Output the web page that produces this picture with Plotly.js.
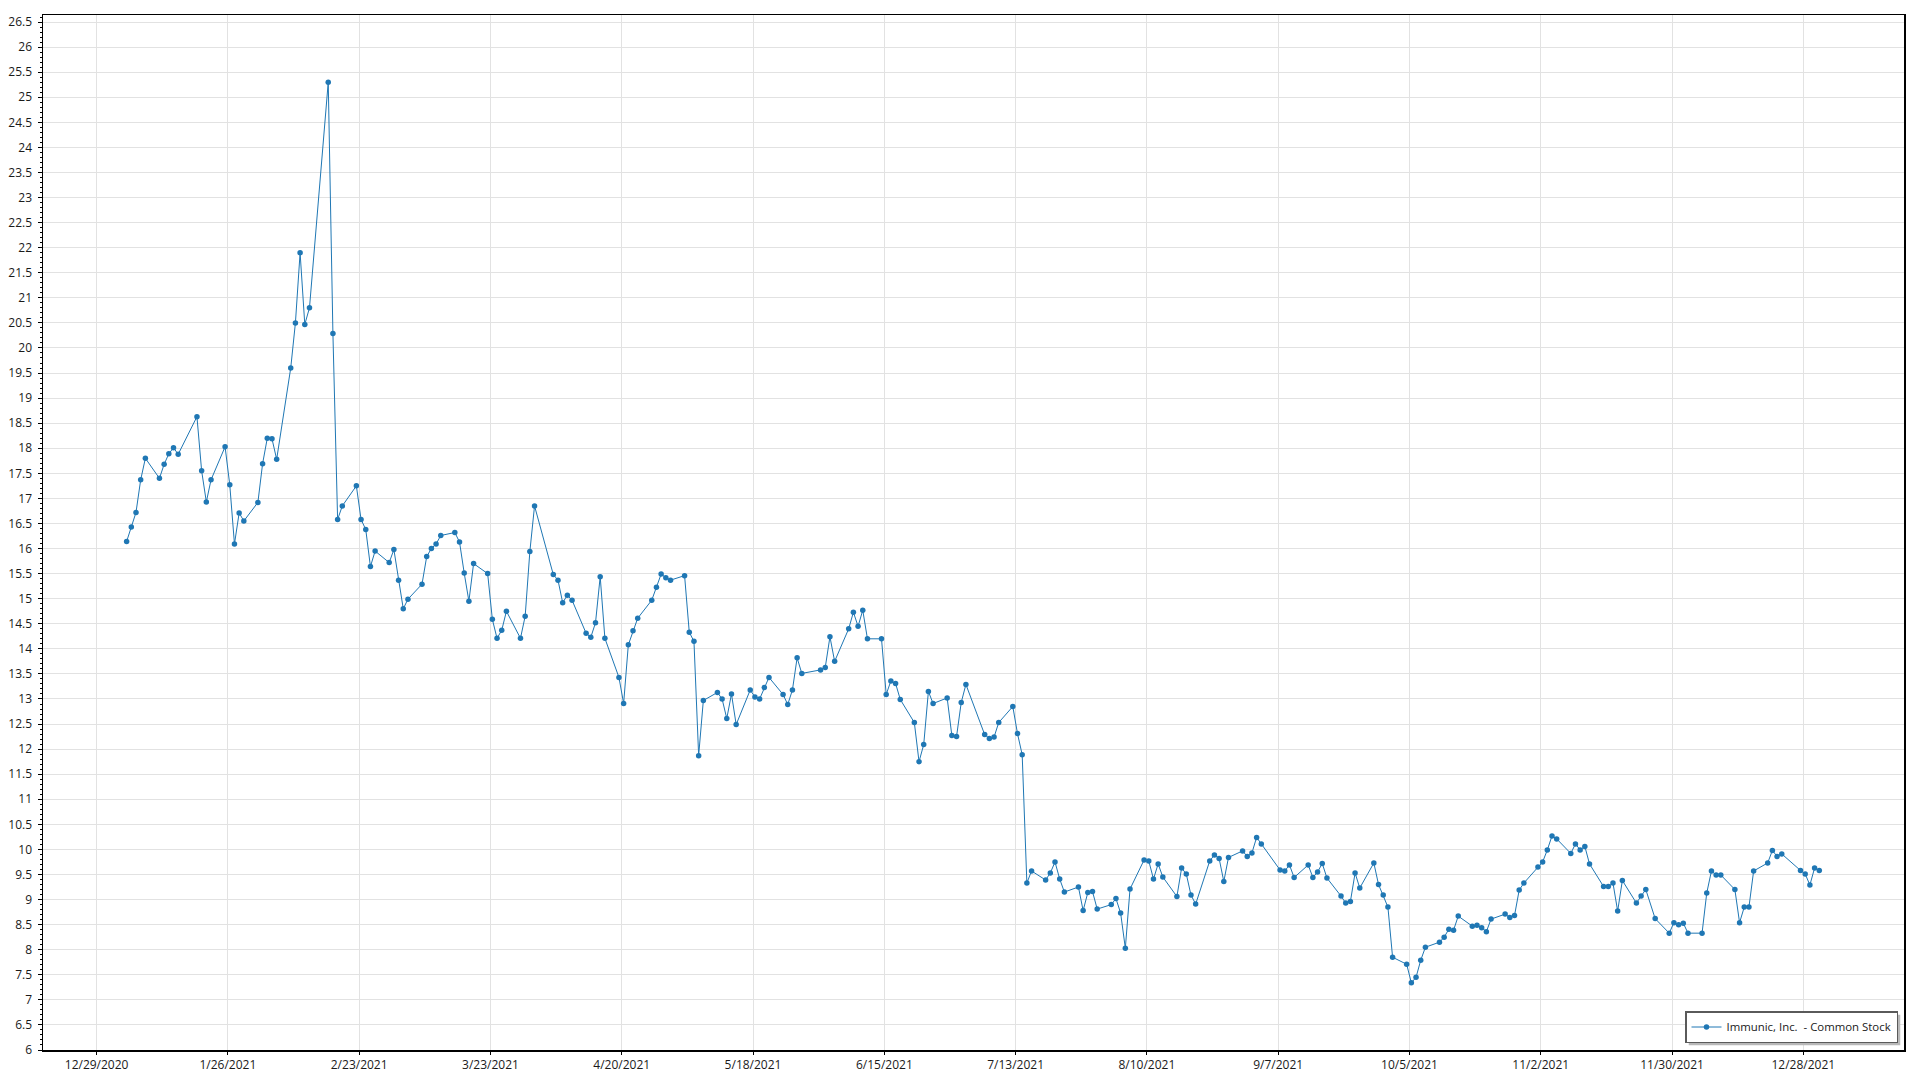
<!DOCTYPE html>
<html>
<head>
<meta charset="utf-8">
<script src="https://cdn.plot.ly/plotly-3.0.1.min.js"></script>
<style>
  html, body { margin: 0; padding: 0; background: #ffffff; }
  #chart { width: 1920px; height: 1080px; }
</style>
</head>
<body>
<div id="chart"></div>
<script>
// ---- Data: trading days (day of month) and closing prices, 2021 ----
const seriesName = 'Immunic, Inc.\u00a0 - Common Stock';
const year = 2021;

const daysJan = [4,5,6,7,8,11,12,13,14,15,19,20,21,22,25,26,27,28,29];
const pricesJan = [16.14,16.43,16.72,17.37,17.80,17.40,17.68,17.89,18.01,17.88,18.63,17.55,16.93,17.37,18.03,17.27,16.09,16.71,16.55];

const daysFeb = [1,2,3,4,5,8,9,10,11,12,16,17,18,19,22,23,24,25,26];
const pricesFeb = [16.92,17.69,18.20,18.19,17.78,19.60,20.50,21.90,20.47,20.80,25.30,20.29,16.58,16.85,17.25,16.58,16.38,15.64,15.95];

const daysMar = [1,2,3,4,5,8,9,10,11,12,15,16,17,18,19,22,23,24,25,26,29,30,31];
const pricesMar = [15.72,15.98,15.37,14.80,14.99,15.29,15.84,16.00,16.09,16.26,16.32,16.13,15.51,14.95,15.70,15.50,14.59,14.21,14.37,14.75,14.21,14.65,15.94];

const daysApr = [1,5,6,7,8,9,12,13,14,15,16,19,20,21,22,23,26,27,28,29,30];
const pricesApr = [16.85,15.48,15.37,14.92,15.07,14.97,14.31,14.23,14.52,15.44,14.21,13.43,12.91,14.08,14.36,14.61,14.97,15.23,15.49,15.42,15.37];

const daysMay = [3,4,5,6,7,10,11,12,13,14,17,18,19,20,21,24,25,26,27,28];
const pricesMay = [15.46,14.33,14.15,11.87,12.97,13.13,13.00,12.61,13.10,12.49,13.18,13.04,13.00,13.23,13.43,13.09,12.89,13.18,13.82,13.51];

const daysJun = [1,2,3,4,7,8,9,10,11,14,15,16,17,18,21,22,23,24,25,28,29,30];
const pricesJun = [13.58,13.63,14.24,13.75,14.40,14.73,14.45,14.77,14.20,14.20,13.09,13.36,13.31,12.99,12.53,11.75,12.09,13.15,12.91,13.02,12.27,12.25];

const daysJul = [1,2,6,7,8,9,12,13,14,15,16,19,20,21,22,23,26,27,28,29,30];
const pricesJul = [12.93,13.29,12.29,12.21,12.24,12.53,12.85,12.31,11.89,9.33,9.57,9.39,9.53,9.75,9.41,9.15,9.25,8.78,9.14,9.16,8.81];

const daysAug = [2,3,4,5,6,9,10,11,12,13,16,17,18,19,20,23,24,25,26,27,30,31];
const pricesAug = [8.90,9.02,8.73,8.03,9.21,9.79,9.77,9.41,9.71,9.45,9.06,9.63,9.51,9.09,8.91,9.77,9.89,9.82,9.36,9.84,9.97,9.86];

const daysSep = [1,2,3,7,8,9,10,13,14,15,16,17,20,21,22,23,24,27,28,29,30];
const pricesSep = [9.93,10.24,10.11,9.59,9.57,9.69,9.44,9.69,9.44,9.55,9.72,9.43,9.07,8.93,8.96,9.53,9.23,9.73,9.30,9.09,8.85];

const daysOct = [1,4,5,6,7,8,11,12,13,14,15,18,19,20,21,22,25,26,27,28,29];
const pricesOct = [7.85,7.71,7.34,7.45,7.79,8.05,8.15,8.25,8.41,8.39,8.67,8.47,8.49,8.44,8.36,8.61,8.71,8.64,8.68,9.19,9.33];

const daysNov = [1,2,3,4,5,8,9,10,11,12,15,16,17,18,19,22,23,24,26,29,30];
const pricesNov = [9.65,9.75,9.99,10.27,10.21,9.92,10.11,9.99,10.06,9.71,9.26,9.26,9.33,8.77,9.38,8.93,9.07,9.20,8.62,8.33,8.54];

const daysDec = [1,2,3,6,7,8,9,10,13,14,15,16,17,20,21,22,23,27,28,29,30,31];
const pricesDec = [8.50,8.53,8.33,8.33,9.13,9.57,9.49,9.49,9.20,8.54,8.85,8.85,9.57,9.73,9.98,9.86,9.91,9.58,9.51,9.29,9.63,9.58];

const tickLabels = ['12/29/2020','1/26/2021','2/23/2021','3/23/2021','4/20/2021','5/18/2021',
  '6/15/2021','7/13/2021','8/10/2021','9/7/2021','10/5/2021','11/2/2021','11/30/2021','12/28/2021'];

// ---- Build series ----
const months = [
  [1, daysJan, pricesJan], [2, daysFeb, pricesFeb], [3, daysMar, pricesMar],
  [4, daysApr, pricesApr], [5, daysMay, pricesMay], [6, daysJun, pricesJun],
  [7, daysJul, pricesJul], [8, daysAug, pricesAug], [9, daysSep, pricesSep],
  [10, daysOct, pricesOct], [11, daysNov, pricesNov], [12, daysDec, pricesDec]
];
const pad = n => String(n).padStart(2, '0');
const xDates = [], yPrices = [];
months.forEach(([m, ds, ps]) => {
  ds.forEach((d, i) => { xDates.push(year + '-' + pad(m) + '-' + pad(d)); yPrices.push(ps[i]); });
});

// tick positions (grid lines sit slightly before midnight of the data points)
const shiftMs = 9.6 * 3600 * 1000;
const toPlotlyDate = ms => new Date(ms).toISOString().slice(0, 19).replace('T', ' ');
const tickVals = tickLabels.map(s => {
  const [m, d, y] = s.split('/').map(Number);
  return toPlotlyDate(Date.UTC(y, m - 1, d) - shiftMs);
});

const lineColor = '#1f77b4';
const fontFamily = '"Segoe UI", "Open Sans", "Noto Sans", sans-serif';

const trace = {
  type: 'scatter',
  mode: 'lines+markers',
  x: xDates,
  y: yPrices,
  name: seriesName,
  line: { color: lineColor, width: 1 },
  marker: { color: lineColor, size: 5.5 },
  showlegend: true
};

const layout = {
  width: 1920,
  height: 1080,
  margin: { l: 43, r: 16, t: 15, b: 30, pad: 0 },
  paper_bgcolor: '#ffffff',
  plot_bgcolor: '#ffffff',
  font: { family: fontFamily, size: 12, color: '#1a1a1a' },
  showlegend: true,
  xaxis: {
    type: 'date',
    range: ['2020-12-17 04:00', '2022-01-18 01:40'],
    tickmode: 'array',
    tickvals: tickVals,
    ticktext: tickLabels,
    ticks: 'outside',
    ticklen: 3,
    tickwidth: 1,
    tickcolor: '#000000',
    showgrid: true,
    gridcolor: '#e2e2e2',
    gridwidth: 1,
    showline: true,
    linecolor: '#000000',
    linewidth: 1.5,
    mirror: true,
    zeroline: false,
    tickfont: { family: fontFamily, size: 12, color: '#1a1a1a' },
    fixedrange: true
  },
  yaxis: {
    range: [6, 26.64],
    tick0: 6,
    dtick: 0.5,
    ticks: 'outside',
    ticklen: 4,
    tickwidth: 1,
    tickcolor: '#000000',
    minor: { dtick: 0.1, ticks: 'outside', ticklen: 2, tickcolor: '#000000', showgrid: false },
    showgrid: true,
    gridcolor: '#e2e2e2',
    gridwidth: 1,
    showline: true,
    linecolor: '#000000',
    linewidth: 1.5,
    mirror: true,
    zeroline: false,
    ticklabelstandoff: 3,
    tickfont: { family: fontFamily, size: 12, color: '#1a1a1a' },
    fixedrange: true
  },
  legend: {
    x: 1 - 6 / 1861,
    y: 7 / 1035,
    xanchor: 'right',
    yanchor: 'bottom',
    bgcolor: '#ffffff',
    bordercolor: '#5a5a5a',
    borderwidth: 1.5,
    font: { family: fontFamily, size: 11.4, color: '#1a1a1a' },
    itemwidth: 30
  }
};

Plotly.newPlot('chart', [trace], layout, { displayModeBar: false, staticPlot: true }).then(() => {
  // soft drop shadow behind the legend box
  const bg = document.querySelector('.legend .bg');
  if (bg) {
    const x = parseFloat(bg.getAttribute('x')) || 0;
    const y = parseFloat(bg.getAttribute('y')) || 0;
    const w = parseFloat(bg.getAttribute('width'));
    const h = parseFloat(bg.getAttribute('height'));
    const ns = 'http://www.w3.org/2000/svg';
    const sh = document.createElementNS(ns, 'rect');
    sh.setAttribute('x', x + 3); sh.setAttribute('y', y + 3);
    sh.setAttribute('width', w); sh.setAttribute('height', h);
    sh.setAttribute('fill', '#b8b8b8');
    bg.parentNode.insertBefore(sh, bg);
  }
});
</script>
</body>
</html>
